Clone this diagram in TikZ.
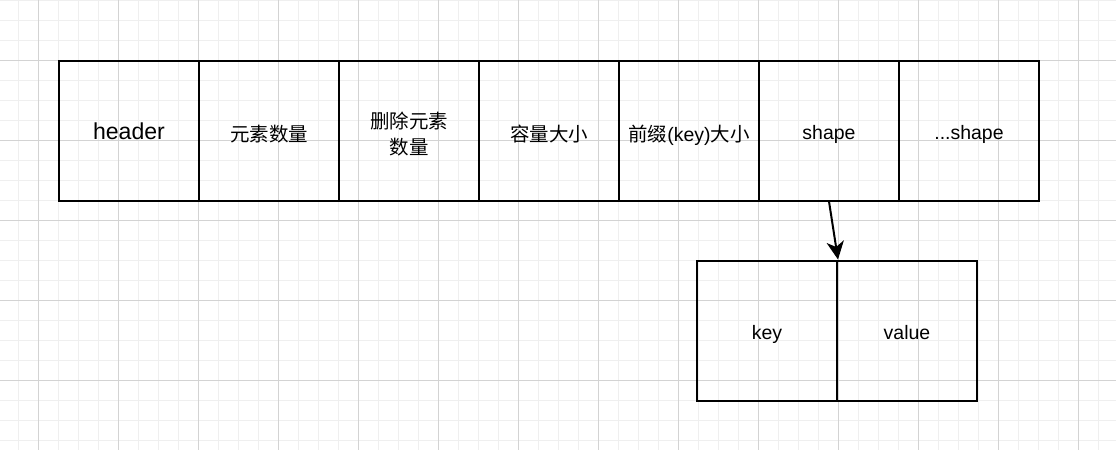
\documentclass[tikz,border=0pt]{standalone}
\usepackage{fontspec}
\setmainfont{Liberation Sans}
\newfontfamily\cjk{Noto Sans CJK SC}
\usetikzlibrary{arrows.meta}
\definecolor{gridminor}{HTML}{EFEFEF}
\definecolor{gridmajor}{HTML}{D3D3D3}
\tikzset{
  cell/.style={draw=black, line width=1.5pt, minimum width=105pt, minimum height=105pt, inner sep=0pt, align=center, font=\fontsize{14.6}{20}\selectfont, text height=15pt, text depth=1.6pt},
  cjkcell/.style={cell, text height=17pt, text depth=0.7pt},
  twoline/.style={cell, text height=37pt, text depth=0.5pt},
  bigtext/.style={font=\fontsize{17.3}{20}\selectfont},
  link/.style={line width=1.5pt, -{Stealth[length=13.5pt, width=13pt, inset=4pt]}},
  minorgrid/.style={draw=gridminor, line width=0.75pt},
  majorgrid/.style={draw=gridmajor, line width=0.75pt}
}
\begin{document}
\begin{tikzpicture}[x=0.75pt, y=-0.75pt]
\useasboundingbox (0,0) rectangle (1116,450);
\fill[white] (0,0) rectangle (1116,450);
% grid
\foreach \gx in {18,38,...,1110} { \draw[minorgrid] (\gx,0) -- (\gx,450); }
\foreach \gy in {0,20,...,450} { \draw[minorgrid] (0,\gy) -- (1116,\gy); }
\foreach \gx in {38,118,...,1110} { \draw[majorgrid] (\gx,0) -- (\gx,450); }
\foreach \gy in {60,140,...,450} { \draw[majorgrid] (0,\gy) -- (1116,\gy); }
% top row
\node[cell, bigtext] (header) at (129,130.5) {header};
\node[cjkcell] (count) at (269,130.5) {\cjk 元素数量};
\node[twoline] (deleted) at (409,130.5) {\cjk 删除元素\\\cjk 数量};
\node[cjkcell] (capacity) at (549,130.5) {\cjk 容量大小};
\node[cjkcell] (prefix) at (689,130.5) {{\cjk 前缀}(key){\cjk 大小}};
\node[cell] (shape) at (829,130.5) {shape};
\node[cell] (moreshape) at (969,130.5) {...shape};
% bottom pair
\node[cell] (key) at (767,330.5) {key};
\node[cell] (value) at (907,330.5) {value};
% connector
\draw[link] (shape.south) -- (key.north east);
\end{tikzpicture}
\end{document}
